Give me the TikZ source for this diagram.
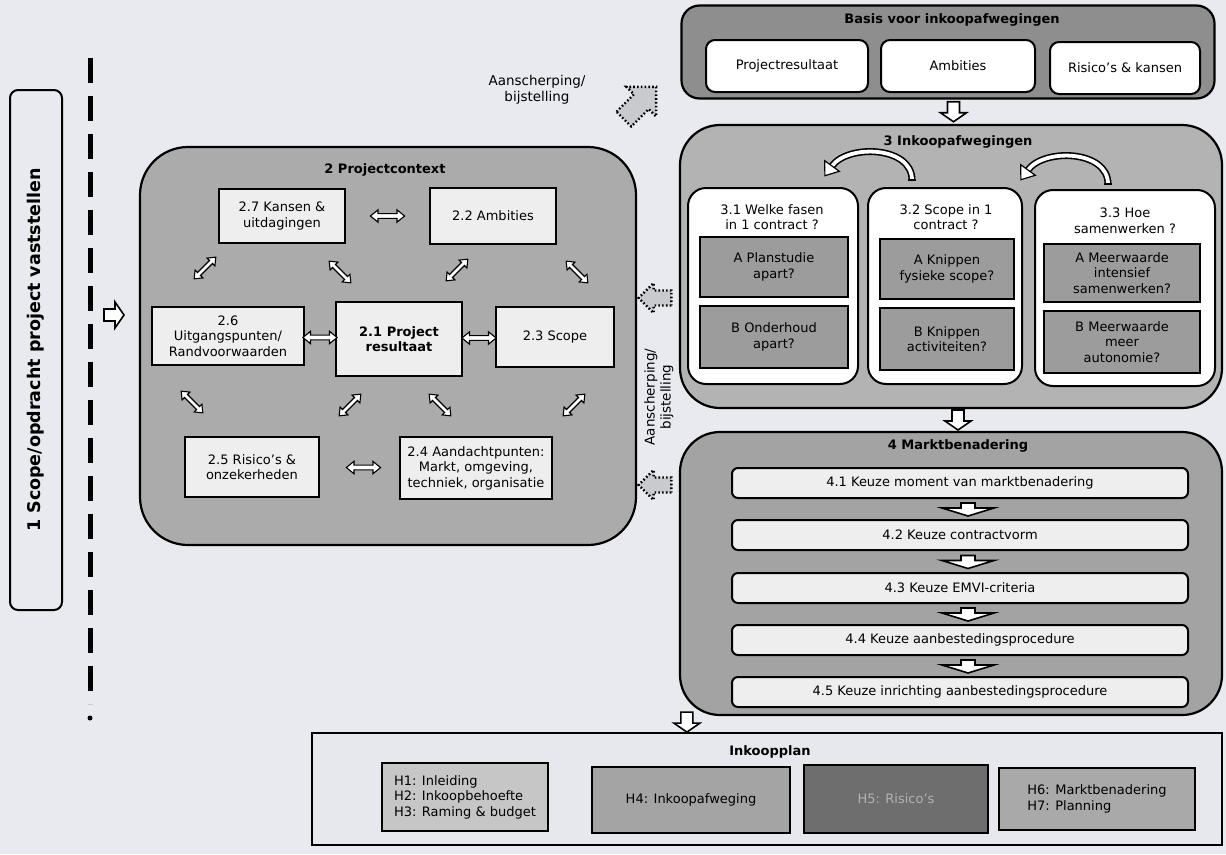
\documentclass[tikz,border=0pt]{standalone}
\usepackage{fontspec}
\setmainfont{DejaVu Sans}
\usetikzlibrary{calc}

\definecolor{paper}{HTML}{E9EAF0}
\definecolor{ctxgrey}{HTML}{ABABAB}
\definecolor{basisgrey}{HTML}{8E8E8E}
\definecolor{inkgrey}{HTML}{B3B3B3}
\definecolor{marktgrey}{HTML}{A3A3A3}
\definecolor{boxwhite}{HTML}{EEEEEE}
\definecolor{qgrey}{HTML}{9C9C9C}
\definecolor{dotgrey}{HTML}{C9CACE}
\definecolor{hone}{HTML}{C6C6C6}
\definecolor{hfour}{HTML}{A4A4A4}
\definecolor{hfive}{HTML}{6E6E6E}
\definecolor{hsix}{HTML}{A9A9A9}
\definecolor{planfill}{HTML}{E6E8EE}

\newcommand\fsn{\fontsize{13}{15.5}\selectfont}
\newcommand\fss{\fontsize{13.5}{16}\selectfont}
\newcommand\fsl{\fontsize{17.5}{19}\selectfont}

\tikzset{
  container/.style={draw, line width=2.2pt, rounded corners=#1, inner sep=0pt},
  inbox/.style={draw, line width=2pt, fill=boxwhite, align=center, font=\fsn, inner sep=2pt},
  qbox/.style={inbox, fill=qgrey},
  stepbox/.style={inbox, rounded corners=6, minimum width=456, minimum height=30},
  basisbox/.style={inbox, fill=white, rounded corners=9, minimum height=52},
  ttl/.style={font=\fsn\bfseries, inner sep=1pt},
  dblarrow/.pic={\draw[fill=white, line width=1.1pt, line join=miter]
    (-18,0) -- (-10,6.5) -- (-10,2.5) -- (10,2.5) -- (10,6.5) -- (18,0)
    -- (10,-6.5) -- (10,-2.5) -- (-10,-2.5) -- (-10,-6.5) -- cycle;},
  blockarrow/.pic={\draw[fill=white, line width=1.6pt, line join=miter]
    (-10,-6) -- (1,-6) -- (1,-13) -- (10,0) -- (1,13) -- (1,6) -- (-10,6) -- cycle;},
  chevron/.pic={\draw[fill=white, line width=1.6pt, line join=miter]
    (-6,-7) -- (-1,-7) -- (-1,-26) -- (7,0) -- (-1,26) -- (-1,7) -- (-6,7) -- cycle;},
  dotarrow/.pic={\draw[fill=dotgrey, line width=2.4pt, dash pattern=on 1.6pt off 2.2pt]
    (-24,-11) -- (2,-11) -- (2,-22) -- (24,0) -- (2,22) -- (2,11) -- (-24,11) -- cycle;},
  curvedarrow/.pic={
    \draw[line width=7pt] (46,12) .. controls (46,-22) and (-18,-24) .. (-34,-2);
    \draw[line width=3.8pt, white] (46,12) .. controls (46,-22) and (-18,-24) .. (-34,-2);
    \draw[fill=white, line width=1.2pt, line join=miter]
      (-26.7,3.3) -- (-41.1,7.7) -- (-41.3,-7.3) -- cycle;
    \draw[line width=1.2pt] (42.2,12) -- (49.8,12);},
}

\begin{document}
\begin{tikzpicture}[x=1pt, y=-1pt]
\useasboundingbox[fill=paper] (0,0) rectangle (1226,854);

% ---- 1 Scope ----
\node[draw, line width=2pt, rounded corners=8, fill=paper, minimum width=520, minimum height=52,
      rotate=90, font=\fsl\bfseries] (scope) at (36,350) {1 Scope/opdracht project vaststellen};
\draw[line width=5pt, dash pattern=on 25pt off 13pt] (90,58) -- (90,704);
\fill (90,718) circle[radius=2.5];
\pic at (114,315) {blockarrow};

% ---- 2 Projectcontext ----
\node[container=48, fill=ctxgrey, minimum width=496, minimum height=398] (context) at (388,346) {};
\node[ttl] (contexttitle) at (385,170) {2 Projectcontext};
\node[inbox, minimum width=126, minimum height=54] (k27) at (282,216) {2.7 Kansen \&\\uitdagingen};
\node[inbox, minimum width=126, minimum height=56] (k22) at (493,216) {2.2 Ambities};
\node[inbox, minimum width=152, minimum height=58] (k26) at (228,336) {2.6\\Uitgangspunten/\\Randvoorwaarden};
\node[inbox, minimum width=126, minimum height=74, font=\fsn\bfseries] (k21) at (399,339) {2.1 Project\\resultaat};
\node[inbox, minimum width=118, minimum height=60] (k23) at (555,337) {2.3 Scope};
\node[inbox, minimum width=134, minimum height=60] (k25) at (252,467) {2.5 Risico’s \&\\onzekerheden};
\node[inbox, minimum width=152, minimum height=62] (k24) at (476,468) {2.4 Aandachtpunten:\\Markt, omgeving,\\techniek, organisatie};

\pic[scale=0.95] at ($(k27.east)!0.5!(k22.west)$) {dblarrow};
\pic[scale=0.95] at ($(k26.east)!0.5!(k21.west)$) {dblarrow};
\pic[scale=0.95] at ($(k21.east)!0.5!(k23.west)$) {dblarrow};
\pic[scale=0.95] at ($(k25.east)!0.55!(k24.west)$) {dblarrow};
\pic[scale=0.85, rotate=45]  at (205,268) {dblarrow};
\pic[scale=0.85, rotate=-45] at (340,272) {dblarrow};
\pic[scale=0.85, rotate=45]  at (457,270) {dblarrow};
\pic[scale=0.85, rotate=-45] at (577,272) {dblarrow};
\pic[scale=0.85, rotate=-45] at (192,402) {dblarrow};
\pic[scale=0.85, rotate=45]  at (350,405) {dblarrow};
\pic[scale=0.85, rotate=-45] at (440,405) {dblarrow};
\pic[scale=0.85, rotate=45]  at (574,405) {dblarrow};

% ---- feedback arrows ----
\node[font=\fss, align=center] (adjtop) at (537,90) {Aanscherping/\\bijstelling};
\pic[rotate=45, scale=0.95] at (640,103) {dotarrow};
\node[font=\fss, align=center, rotate=90] (adjside) at (659,397) {Aanscherping/\\bijstelling};
\pic[rotate=180, scale=0.68] at (655,298) {dotarrow};
\pic[rotate=180, scale=0.68] at (655,485) {dotarrow};

% ---- Basis voor inkoopafwegingen ----
\node[container=18, fill=basisgrey, minimum width=533, minimum height=93] (basis) at (948,52) {};
\node[ttl] (basistitle) at (952,20) {Basis voor inkoopafwegingen};
\node[basisbox, minimum width=162] (b1) at (787,66) {Projectresultaat};
\node[basisbox, minimum width=154] (b2) at (958,66) {Ambities};
\node[basisbox, minimum width=150] (b3) at (1125,68) {Risico’s \& kansen};

% ---- 3 Inkoopafwegingen ----
\node[container=40, fill=inkgrey, minimum width=542, minimum height=283] (inkoop) at (951,266.5) {};
\pic[rotate=-90] at ($(basis.south)!0.5!(inkoop.north)+(4,0)$) {blockarrow};
\node[ttl] (inkooptitle) at (958,142) {3 Inkoopafwegingen};
\pic at (866,168) {curvedarrow};
\pic at (1062,172) {curvedarrow};

\node[inbox, fill=white, rounded corners=18, minimum width=170, minimum height=196] (q1) at (773,286) {};
\node[inbox, fill=white, rounded corners=18, minimum width=154, minimum height=196] (q2) at (945,286) {};
\node[inbox, fill=white, rounded corners=18, minimum width=180, minimum height=196] (q3) at (1125,288) {};
\node[font=\fsn, align=center] (q1t) at (772,217) {3.1 Welke fasen\\in 1 contract ?};
\node[font=\fsn, align=center] (q2t) at (946,217) {3.2 Scope in 1\\contract ?};
\node[font=\fsn, align=center] (q3t) at (1125,221) {3.3 Hoe\\samenwerken ?};
\node[qbox, minimum width=148, minimum height=60] (q1a) at (774,267) {A Planstudie\\apart?};
\node[qbox, minimum width=148, minimum height=62] (q1b) at (774,337) {B Onderhoud\\apart?};
\node[qbox, minimum width=134, minimum height=60] (q2a) at (947,269) {A Knippen\\fysieke scope?};
\node[qbox, minimum width=134, minimum height=62] (q2b) at (947,339) {B Knippen\\activiteiten?};
\node[qbox, minimum width=156, minimum height=58] (q3a) at (1122,273) {A Meerwaarde\\intensief\\samenwerken?};
\node[qbox, minimum width=156, minimum height=62] (q3b) at (1122,342) {B Meerwaarde\\meer\\autonomie?};

% ---- 4 Marktbenadering ----
\node[container=40, fill=marktgrey, minimum width=542, minimum height=283] (markt) at (951,573.5) {};
\pic[rotate=-90] at ($(inkoop.south)!0.5!(markt.north)+(7,0)$) {blockarrow};
\node[ttl] (markttitle) at (958,446) {4 Marktbenadering};
\node[stepbox] (s1) at (960,483) {4.1 Keuze moment van marktbenadering};
\node[stepbox] (s2) at (960,535) {4.2 Keuze contractvorm};
\node[stepbox] (s3) at (960,588) {4.3 Keuze EMVI-criteria};
\node[stepbox] (s4) at (960,640) {4.4 Keuze aanbestedingsprocedure};
\node[stepbox] (s5) at (960,692) {4.5 Keuze inrichting aanbestedingsprocedure};
\pic[rotate=-90] at ($(s1.south)!0.5!(s2.north)+(8,0)$) {chevron};
\pic[rotate=-90] at ($(s2.south)!0.5!(s3.north)+(8,0)$) {chevron};
\pic[rotate=-90] at ($(s3.south)!0.5!(s4.north)+(8,0)$) {chevron};
\pic[rotate=-90] at ($(s4.south)!0.5!(s5.north)+(8,0)$) {chevron};

% ---- Inkoopplan ----
\node[draw, line width=2.4pt, fill=planfill, minimum width=910, minimum height=112] (plan) at (767,789) {};
\pic[rotate=-90] at ($(markt.south west)+(8,6)$) {blockarrow};
\node[ttl] (plantitle) at (770,752) {Inkoopplan};
\node[inbox, fill=hone, align=left, minimum width=166, minimum height=68] (h1) at (465,797) {H1: Inleiding\\H2: Inkoopbehoefte\\H3: Raming \& budget};
\node[inbox, fill=hfour, minimum width=198, minimum height=66] (h4) at (691,800) {H4: Inkoopafweging};
\node[inbox, fill=hfive, text=black!30, minimum width=184, minimum height=68] (h5) at (896,799) {H5: Risico’s};
\node[inbox, fill=hsix, align=left, minimum width=196, minimum height=62] (h6) at (1097,799) {H6: Marktbenadering\\H7: Planning};
\end{tikzpicture}
\end{document}
